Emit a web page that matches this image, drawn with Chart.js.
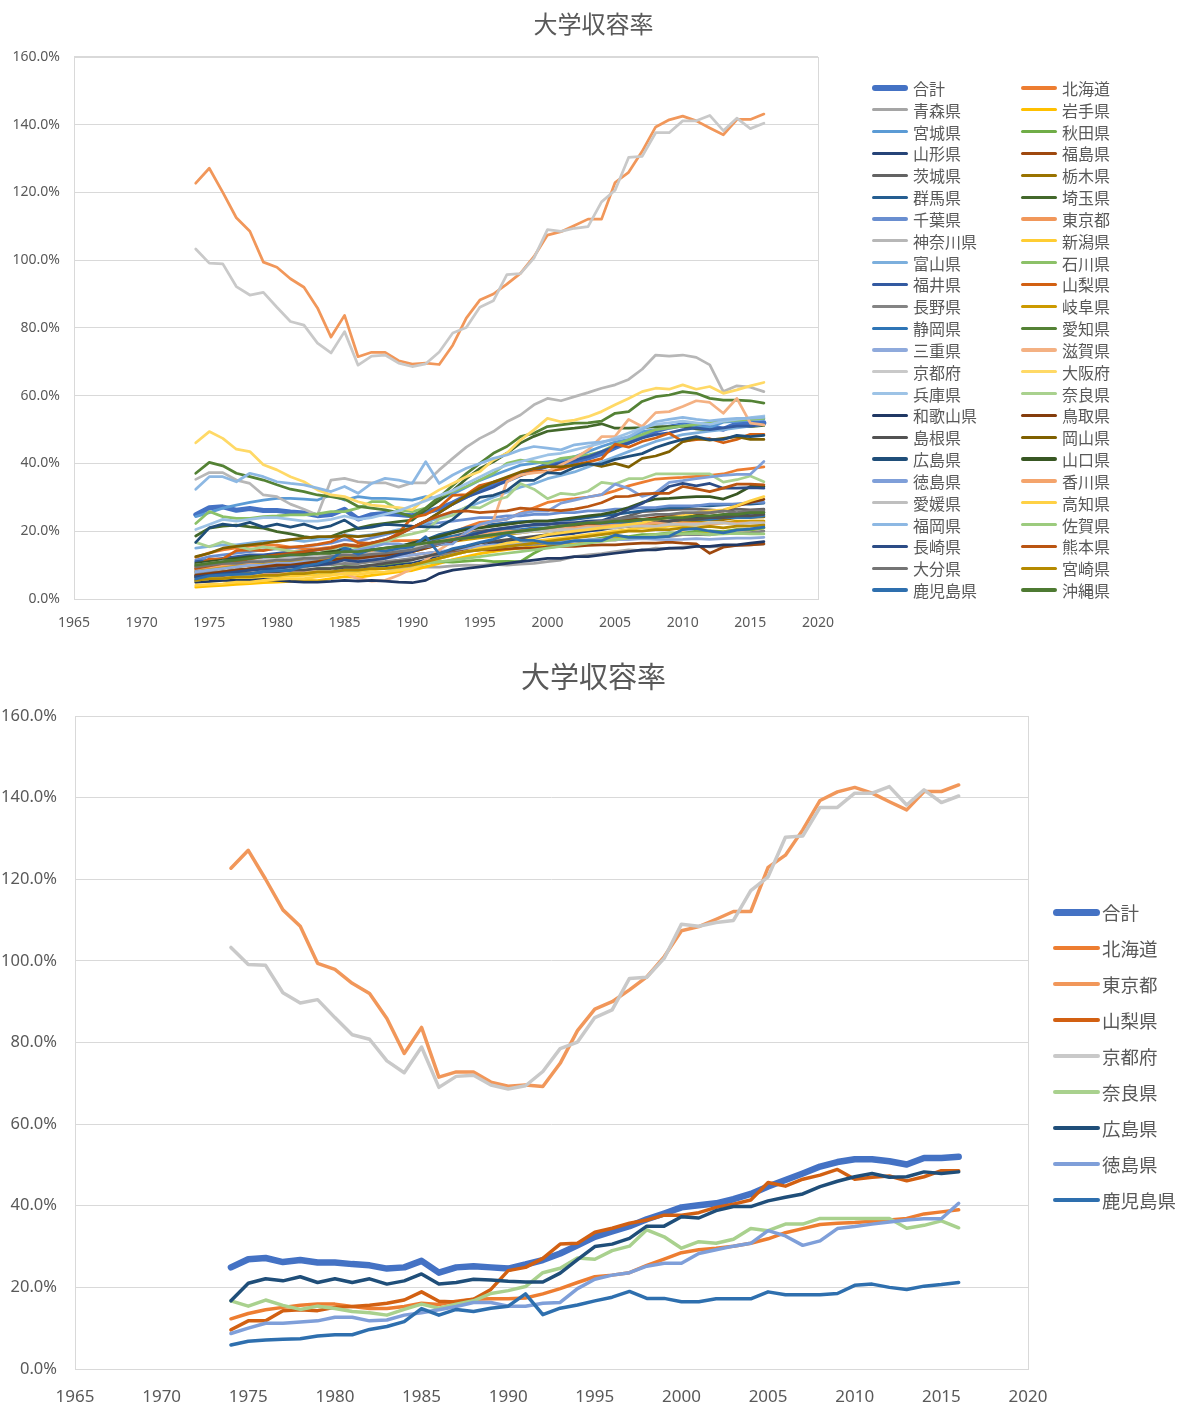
<!DOCTYPE html>
<html lang="ja">
<head>
<meta charset="utf-8">
<title>大学収容率</title>
<script src="https://cdn.jsdelivr.net/npm/chart.js@4.4.1/dist/chart.umd.min.js"></script>
<style>
  html, body { margin: 0; padding: 0; background: #fff; }
  body { width: 1187px; height: 1403px; position: relative; overflow: hidden;
         font-family: "Noto Sans CJK JP", "Noto Sans", sans-serif; }
  .box { position: absolute; left: 0; width: 1187px; }
  #topBox { top: 0; height: 645px; }
  #bottomBox { top: 645px; height: 758px; }
  .legend { position: absolute; left: 0; top: 0; color: #595959; }
  .legend .item { position: absolute; display: flex; align-items: center; white-space: nowrap; }
  .legend .line { display: inline-block; border-radius: 4px; }
</style>
</head>
<body>
<div class="box" id="topBox">
  <canvas id="topChart" width="1187" height="645"></canvas>
  <div class="legend" id="topLegend"></div>
</div>
<div class="box" id="bottomBox">
  <canvas id="bottomChart" width="1187" height="758"></canvas>
  <div class="legend" id="bottomLegend"></div>
</div>
<script>
// 年度 (x 軸)
const years = [1974,1975,1976,1977,1978,1979,1980,1981,1982,1983,
  1984,1985,1986,1987,1988,1989,1990,1991,1992,1993,
  1994,1995,1996,1997,1998,1999,2000,2001,2002,2003,
  2004,2005,2006,2007,2008,2009,2010,2011,2012,2013,2014,2015,2016];

// 大学収容率 (%)
const gokei = [24.9,26.9,27.2,26.2,26.7,26.1,26.1,25.7,25.4,24.6,
  24.9,26.5,23.6,24.9,25.2,24.9,24.6,25.6,26.7,28.3,
  30.3,32.4,33.7,35.0,36.7,38.1,39.6,40.1,40.6,41.6,
  42.9,44.7,46.3,47.9,49.6,50.7,51.4,51.4,50.9,50.1,51.7,51.7,52.0];
const hokkaido = [12.3,13.6,14.5,15.1,15.6,15.9,15.9,15.3,14.8,14.8,
  15.3,16.1,15.8,16.6,17.1,17.2,17.2,17.4,18.4,19.7,
  21.2,22.6,23.0,23.6,25.4,26.9,28.5,29.2,29.6,30.1,
  30.8,31.9,33.4,34.4,35.4,35.7,35.9,36.2,36.5,36.9,38.0,38.5,39.0];
const aomori = [6.0,6.5,6.8,7.0,7.2,7.5,7.4,7.8,8.0,8.2,
  8.5,8.8,8.4,8.8,9.0,8.9,9.2,9.5,9.4,9.8,
  10.0,9.9,10.2,10.0,10.3,10.5,11.0,11.5,12.5,13.0,
  13.4,14.0,14.5,14.3,15.0,14.9,15.3,15.6,15.4,15.5,15.8,16.0,16.2];
const iwate = [3.5,3.8,4.0,4.3,4.5,4.8,5.0,5.2,5.5,5.4,
  6.0,6.6,6.4,7.0,7.5,8.0,8.4,9.5,10.5,11.6,
  12.5,13.4,14.0,14.6,15.0,15.5,16.1,16.5,16.4,17.0,
  17.5,18.1,17.9,18.5,19.1,18.9,19.5,19.4,20.0,19.8,20.5,20.4,21.0];
const miyagi = [24.3,25.5,26.8,27.7,28.5,29.2,29.7,29.7,29.5,29.2,
  30.7,29.2,30.2,29.7,29.7,29.5,29.2,30.2,29.5,31.0,
  33.0,35.0,36.5,38.0,39.5,40.0,40.5,41.0,42.0,43.5,
  45.0,46.3,47.1,49.4,50.0,50.8,51.3,51.1,50.6,52.2,52.4,52.9,53.1];
const akita = [6.5,7.0,7.1,7.5,7.4,8.0,8.1,8.5,8.4,9.0,
  9.1,9.6,9.4,10.0,10.1,10.5,10.4,10.8,11.0,10.9,
  11.2,11.5,11.0,11.1,11.0,13.5,15.5,16.5,17.0,17.4,
  18.0,18.6,18.4,19.0,19.1,19.5,19.4,20.0,20.1,19.9,20.5,20.4,21.0];
const yamagata = [5.5,6.0,6.5,6.4,7.0,7.1,7.5,7.4,7.8,8.0,
  8.5,9.0,8.8,9.2,9.5,10.0,10.5,11.5,12.5,13.5,
  14.5,15.4,16.5,17.0,17.4,18.0,18.6,19.0,19.4,20.0,
  20.5,21.1,21.4,22.0,22.6,23.0,23.4,24.0,23.9,24.5,25.0,25.3,25.5];
const fukushima = [7.0,7.5,8.0,8.5,8.8,9.0,9.5,10.0,10.3,10.5,
  11.0,11.8,11.5,12.0,12.5,12.8,13.0,13.5,13.8,14.0,
  14.3,14.5,14.5,14.8,15.0,15.0,15.3,15.5,15.5,15.8,
  16.0,16.0,16.3,16.5,16.5,16.8,16.5,16.3,13.5,15.3,15.8,16.0,16.3];
const ibaraki = [9.0,9.5,10.0,10.5,10.8,11.0,11.5,12.0,12.0,12.5,
  13.0,13.8,13.5,14.0,14.5,15.0,15.5,16.5,17.5,18.5,
  19.5,20.0,20.5,21.0,21.5,21.8,22.0,22.3,22.5,22.5,
  22.3,23.5,24.5,25.8,26.0,26.3,26.5,26.5,26.3,26.0,26.5,26.3,26.5];
const tochigi = [8.0,8.5,9.0,9.5,10.0,10.3,10.5,11.0,11.5,11.8,
  12.0,12.8,12.5,13.0,13.5,14.0,14.5,15.5,16.5,17.5,
  18.0,18.5,19.0,19.5,20.0,20.5,20.4,21.0,20.9,21.5,
  21.4,22.0,22.1,22.5,22.4,23.0,23.1,22.9,23.5,23.4,24.0,24.1,24.2];
const gunma = [7.0,7.5,8.0,8.5,8.8,9.0,9.5,10.0,10.0,10.5,
  11.0,13.0,12.0,12.5,13.0,14.5,16.0,17.5,19.0,20.0,
  21.0,21.5,22.0,22.5,22.8,23.0,23.0,23.3,23.5,24.0,
  24.5,25.0,25.5,26.0,26.5,27.0,27.0,27.5,27.5,27.8,28.0,28.0,28.3];
const saitama = [18.6,20.9,21.5,21.8,21.3,20.9,19.9,19.2,18.4,17.9,
  18.4,19.9,20.9,21.8,22.3,22.8,23.3,26.3,29.0,32.0,
  35.5,38.5,40.5,43.0,46.0,48.0,49.5,50.0,50.4,50.9,
  51.7,50.4,50.4,50.6,50.9,50.9,51.0,50.2,49.8,50.3,50.9,50.9,51.2];
const chiba = [11.5,12.5,13.0,13.5,14.0,14.5,14.8,15.0,15.5,16.0,
  16.5,17.5,17.0,18.0,19.0,20.0,21.0,22.0,22.5,23.0,
  23.5,24.0,24.0,24.5,24.5,25.0,25.0,25.5,25.5,26.0,
  26.0,26.5,26.5,27.0,27.0,27.5,27.5,27.5,28.0,28.0,28.0,28.5,28.5];
const tokyo = [122.7,127.1,120.0,112.5,108.5,99.4,97.9,94.5,92.0,85.9,
  77.3,83.7,71.5,72.8,72.8,70.3,69.3,69.6,69.2,74.9,
  82.9,88.2,90.0,92.9,96.1,101.0,107.4,108.4,110.2,112.1,
  112.1,122.9,125.9,132.1,139.3,141.4,142.5,141.1,139.0,137.0,141.5,141.5,143.1];
const kanagawa = [35.3,37.3,37.3,35.1,34.1,30.7,30.2,28.0,26.5,24.8,
  35.1,35.6,34.6,34.3,34.3,33.0,34.3,34.3,38.1,41.5,
  44.8,47.4,49.4,52.3,54.3,57.3,59.2,58.5,59.7,60.9,
  62.2,63.2,64.8,67.8,72.0,71.7,72.0,71.3,69.1,61.2,62.9,62.5,61.2];
const niigata = [5.0,5.3,5.5,5.8,6.0,6.3,6.5,6.8,7.0,7.2,
  7.5,8.0,8.0,8.5,9.0,9.5,10.0,11.0,12.0,13.0,
  14.0,15.0,15.5,16.0,16.5,17.0,17.5,18.0,18.5,19.0,
  19.5,20.0,20.5,21.0,21.0,21.5,21.5,22.0,22.0,22.5,22.5,23.0,23.0];
const toyama = [15.0,15.5,16.0,16.0,16.5,17.0,17.0,17.5,17.0,17.5,
  18.0,19.0,18.5,19.0,19.5,20.5,21.0,22.5,24.0,25.5,
  27.0,28.5,30.0,31.5,33.0,34.0,35.5,36.5,37.5,39.0,
  40.5,42.0,43.5,45.0,46.5,47.5,48.5,49.0,49.5,50.0,50.5,51.0,51.5];
const ishikawa = [22.3,25.8,24.3,23.8,23.8,24.3,24.5,24.8,24.8,25.1,
  25.8,25.8,26.8,28.7,28.7,26.3,25.8,26.8,30.2,31.7,
  33.2,35.1,37.1,40.0,41.0,40.5,40.0,41.5,42.0,42.5,
  43.5,45.5,47.0,48.5,50.0,50.5,51.0,51.5,52.0,52.5,52.8,53.0,53.3];
const fukui = [11.0,11.5,12.0,12.5,13.0,13.0,13.5,14.0,14.0,14.5,
  15.0,16.0,15.5,16.5,17.5,19.0,21.0,23.0,25.5,28.0,
  30.0,31.5,33.0,35.0,36.5,38.0,39.0,40.0,41.0,42.0,
  43.5,45.0,46.0,47.5,48.5,49.0,50.0,50.5,50.0,50.5,51.0,51.0,51.5];
const yamanashi = [9.6,11.8,11.8,14.3,14.5,14.3,15.1,15.3,15.6,16.1,
  16.9,18.9,16.6,16.4,17.1,19.5,24.1,24.9,27.1,30.6,
  30.8,33.5,34.5,35.7,36.5,37.7,37.7,38.3,39.6,40.4,
  41.4,45.7,44.8,46.5,47.5,48.9,46.5,47.0,47.3,46.1,47.1,48.6,48.6];
const nagano = [7.5,8.0,8.1,8.5,8.4,9.0,9.1,9.5,9.4,10.0,
  10.1,10.5,10.4,11.0,11.1,11.5,12.0,12.5,13.0,13.5,
  14.0,14.5,15.0,15.5,16.0,16.1,16.5,16.4,17.0,17.1,
  17.5,17.4,18.0,18.1,18.5,18.4,19.0,19.1,18.9,19.5,19.4,19.6,20.0];
const gifu = [8.5,9.0,9.5,10.0,10.0,10.5,11.0,11.0,11.5,11.5,
  12.0,12.5,12.0,12.5,13.0,13.5,14.0,15.0,16.0,17.0,
  17.5,18.0,18.5,19.0,19.5,20.0,20.0,20.5,20.5,21.0,
  21.0,21.0,21.5,21.5,22.0,22.0,22.0,22.5,22.5,22.5,23.0,23.0,23.0];
const shizuoka = [10.0,10.5,11.0,11.0,11.5,11.5,12.0,12.0,12.5,12.5,
  13.0,15.5,13.5,14.0,14.5,15.5,16.5,17.5,18.0,18.5,
  19.0,19.5,20.0,20.5,20.5,21.0,21.0,21.5,21.5,22.0,
  22.0,22.5,22.5,23.0,23.0,23.0,23.5,23.5,23.5,24.0,24.0,24.0,24.5];
const aichi = [37.1,40.3,39.3,37.1,36.1,35.1,33.7,32.4,31.7,30.7,
  30.2,29.5,27.3,26.8,26.3,25.5,24.3,26.8,30.0,33.5,
  37.0,40.0,43.0,45.0,47.9,48.9,50.9,51.4,51.9,52.0,
  52.5,54.8,55.3,58.3,59.7,60.2,61.2,60.7,59.2,58.7,58.7,58.5,57.8];
const mie = [8.0,8.5,9.0,9.5,10.0,10.0,10.5,10.5,11.0,11.0,
  11.5,12.0,11.5,12.0,12.0,12.5,13.0,13.5,14.0,14.5,
  15.0,15.5,16.0,16.0,16.5,16.5,17.0,17.0,17.0,17.5,
  17.5,17.5,17.5,17.8,17.6,17.5,17.6,17.8,17.6,17.8,18.0,18.0,18.2];
const shiga = [6.0,6.3,6.5,6.8,7.0,7.3,7.5,7.8,8.0,8.2,
  8.5,7.5,6.0,5.3,5.5,7.0,9.0,11.5,14.5,17.0,
  19.5,21.5,23.2,34.6,36.6,37.2,37.6,39.6,41.5,44.0,
  47.9,48.0,53.0,50.9,55.0,55.3,56.8,58.5,58.0,54.8,59.2,51.9,51.4];
const kyoto = [103.3,99.1,98.9,92.2,89.7,90.5,86.1,81.9,80.8,75.5,
  72.6,78.9,69.0,71.7,72.0,69.6,68.6,69.4,72.9,78.5,
  80.1,86.1,88.0,95.7,96.0,100.6,109.0,108.5,109.4,109.9,
  117.2,120.6,130.3,130.6,137.6,137.6,141.1,141.1,142.7,138.2,141.9,138.8,140.4];
const osaka = [46.1,49.4,47.4,44.2,43.5,39.6,38.1,36.1,34.6,32.2,
  30.7,30.2,28.7,27.7,27.3,27.0,26.3,29.8,32.2,34.1,
  36.1,37.6,41.0,43.0,46.9,49.9,53.3,52.3,52.8,53.8,
  55.3,57.3,59.2,61.2,62.2,61.9,63.2,61.9,62.7,60.7,61.7,62.9,63.9];
const hyogo = [20.5,22.0,23.5,23.0,23.5,24.0,24.0,23.5,23.0,23.0,
  23.5,24.5,23.5,24.0,25.0,26.0,27.5,29.0,30.5,32.0,
  34.0,36.0,38.0,39.5,40.5,41.5,42.5,43.0,44.0,45.0,
  46.0,47.5,49.0,50.5,51.5,52.0,52.5,52.0,51.5,52.5,53.0,53.5,54.0];
const nara = [16.7,15.4,16.9,15.6,14.6,15.4,14.8,14.1,13.8,13.2,
  14.6,15.9,14.9,15.9,16.7,18.5,19.2,20.2,23.6,24.7,
  27.2,26.9,29.0,30.1,34.1,32.4,29.6,31.2,30.8,31.8,
  34.4,33.9,35.5,35.5,36.9,36.9,36.9,36.9,36.9,34.5,35.2,36.3,34.6];
const wakayama = [5.0,5.2,5.5,5.5,5.5,5.8,5.5,5.2,5.0,5.0,
  5.2,5.5,5.3,5.5,5.3,5.0,4.8,5.5,7.5,8.5,
  9.0,9.5,10.0,10.5,11.0,11.5,12.0,12.0,12.5,12.5,
  13.0,13.5,14.0,14.5,14.5,15.0,15.0,15.5,15.5,16.0,16.0,16.5,16.9];
const tottori = [7.0,7.5,8.0,8.5,9.0,9.5,10.0,10.0,10.5,11.0,
  11.5,12.0,12.0,12.5,13.0,13.5,14.0,15.0,16.0,17.0,
  18.0,18.5,19.0,19.5,20.0,20.5,20.5,21.0,21.5,22.0,
  22.5,23.0,23.5,23.5,24.0,24.5,24.5,25.0,25.5,26.0,27.5,28.5,29.4];
const shimane = [6.5,7.0,7.0,7.5,7.5,8.0,8.0,8.5,8.5,9.0,
  9.0,9.5,9.5,10.0,10.5,11.0,11.5,12.5,13.5,14.5,
  15.5,16.5,17.0,17.5,18.0,18.5,19.0,19.5,20.0,20.5,
  21.0,21.5,22.0,22.5,23.0,23.0,23.5,23.5,24.0,24.0,24.5,24.5,25.0];
const okayama = [12.5,13.5,15.0,15.5,16.0,16.4,17.0,17.5,18.0,18.4,
  18.4,18.6,18.4,18.8,19.5,20.0,21.0,23.0,25.5,28.0,
  30.5,32.7,34.5,36.0,37.5,38.5,39.1,39.0,39.5,40.0,
  39.1,40.0,38.9,41.5,42.2,43.5,46.4,47.4,46.9,47.4,47.9,47.1,47.1];
const hiroshima = [16.7,21.0,22.1,21.6,22.6,21.2,22.1,21.2,22.1,20.8,
  21.6,23.3,20.8,21.2,22.0,21.8,21.5,21.3,21.3,23.5,
  26.8,30.0,30.6,32.0,35.0,35.0,37.3,37.0,38.8,39.8,
  39.8,41.2,42.1,42.9,44.7,46.0,47.1,47.9,47.0,47.1,48.3,47.9,48.3];
const yamaguchi = [10.5,11.0,11.5,12.0,12.5,12.5,13.0,13.0,13.5,13.5,
  14.0,14.5,14.0,14.5,15.0,15.5,16.5,17.5,18.5,19.5,
  20.5,21.0,21.5,22.0,22.5,23.0,23.0,23.5,24.0,24.5,
  25.0,25.8,27.0,28.5,29.5,29.7,30.0,30.2,30.2,29.5,31.0,33.2,33.2];
const tokushima = [8.7,10.0,11.2,11.2,11.5,11.8,12.7,12.7,11.8,12.0,
  13.2,13.8,14.5,15.3,16.3,16.3,15.4,15.4,16.1,16.3,
  19.7,22.0,23.0,23.6,25.2,25.9,25.9,28.3,29.2,30.1,
  30.8,33.9,32.6,30.3,31.4,34.4,34.9,35.5,36.0,36.5,36.8,36.8,40.6];
const kagawa = [9.0,9.5,10.0,10.5,10.8,11.0,11.5,12.0,12.0,12.5,
  13.0,13.5,13.5,14.0,14.5,15.0,15.5,16.0,17.0,18.0,
  18.5,19.0,19.5,20.0,20.0,20.5,20.5,21.0,21.0,21.5,
  21.5,21.8,21.8,22.0,22.5,22.0,22.5,22.3,22.0,22.5,22.3,22.5,22.5];
const ehime = [10.0,10.5,11.0,11.0,11.5,11.5,12.0,12.0,12.5,12.5,
  13.0,13.5,13.0,13.5,14.0,14.5,15.0,16.0,17.0,17.5,
  18.0,18.5,19.0,19.5,19.5,20.0,20.0,20.5,20.5,21.0,
  21.0,21.0,21.5,21.5,21.5,22.0,22.0,22.0,22.5,22.5,22.0,22.5,22.5];
const kochi = [4.0,4.3,4.5,5.0,5.0,5.5,5.8,6.0,6.0,6.5,
  7.0,7.5,7.2,7.8,8.0,8.5,9.0,10.5,12.0,13.0,
  14.0,15.0,15.5,16.5,17.0,18.0,19.0,19.5,20.0,20.5,
  21.0,21.5,22.0,22.5,23.5,24.0,24.5,25.5,26.0,26.3,27.5,29.0,30.2];
const fukuoka = [32.4,36.1,36.1,34.6,37.1,36.1,34.6,34.1,33.7,32.7,
  31.7,33.2,31.2,34.1,35.6,35.1,34.1,40.5,34.1,36.6,
  38.6,40.0,41.5,42.5,44.0,45.0,44.5,44.0,45.5,46.0,
  46.4,47.0,47.9,50.0,52.3,53.0,53.6,53.0,52.6,53.0,53.3,53.4,53.6];
const saga = [5.5,6.0,6.0,6.5,6.5,7.0,7.0,7.5,7.5,8.0,
  8.0,8.5,8.5,9.0,9.0,9.5,10.0,10.5,11.0,11.5,
  12.0,12.5,13.0,13.5,14.0,14.5,15.0,15.5,16.0,16.5,
  17.0,17.5,18.0,18.5,19.0,19.4,19.2,19.4,19.0,19.2,19.4,19.2,19.2];
const nagasaki = [6.5,7.0,7.5,8.0,8.5,8.8,9.0,9.5,9.8,10.0,
  10.5,11.5,11.0,11.5,12.0,13.0,14.0,15.5,16.5,17.5,
  18.5,19.5,20.5,21.0,21.5,22.0,22.0,22.5,22.5,23.0,
  23.1,24.5,26.5,28.2,30.5,33.2,34.1,33.4,34.1,32.7,32.7,32.9,32.7];
const kumamoto = [9.0,9.8,10.5,11.0,11.8,12.5,13.0,13.5,14.0,14.5,
  15.0,16.0,15.5,16.5,17.5,19.0,21.0,23.0,24.5,25.8,
  26.0,25.5,25.8,26.0,26.8,26.5,26.3,26.1,26.5,27.3,
  28.4,30.2,30.3,31.0,31.2,31.2,33.2,32.5,31.7,32.7,33.9,33.9,33.7];
const oita = [9.5,10.0,10.5,10.5,11.0,11.0,11.5,11.5,12.0,12.0,
  12.5,13.0,12.8,13.2,13.5,14.0,14.5,15.5,16.5,17.5,
  18.0,18.5,19.0,19.5,20.0,20.5,21.0,21.5,22.0,22.5,
  23.0,23.5,24.0,24.5,25.0,25.0,25.5,25.5,25.5,26.0,25.5,26.0,26.0];
const miyazaki = [5.5,6.0,6.0,6.5,6.5,7.0,7.0,7.5,7.5,8.0,
  8.0,8.5,8.5,9.0,9.0,9.5,10.0,11.0,12.0,13.0,
  14.0,14.5,15.0,15.5,16.0,16.5,17.0,17.5,18.0,18.5,
  19.0,19.5,20.0,20.0,20.5,20.5,21.0,21.0,21.4,21.0,21.5,21.5,21.8];
const kagoshima = [5.9,6.8,7.1,7.3,7.4,8.1,8.4,8.4,9.7,10.4,
  11.6,14.8,13.2,14.6,14.1,14.9,15.4,18.4,13.3,14.9,
  15.7,16.7,17.6,19.0,17.3,17.3,16.5,16.5,17.2,17.2,
  17.2,18.9,18.2,18.2,18.2,18.5,20.5,20.8,20.0,19.5,20.3,20.7,21.2];
const okinawa = [10.0,10.5,11.0,11.5,12.0,12.5,12.5,13.0,13.0,13.5,
  13.5,14.0,14.0,14.5,15.0,15.5,16.0,16.5,17.0,17.5,
  18.0,18.5,19.0,19.5,20.0,20.5,21.0,21.5,22.0,22.5,
  22.5,23.0,23.0,23.5,23.5,24.0,24.0,24.5,24.5,25.0,25.0,25.5,25.5];

// 軸目盛り
const yTicks = [0, 20, 40, 60, 80, 100, 120, 140, 160];
const xTicks = [1965, 1970, 1975, 1980, 1985, 1990, 1995, 2000, 2005, 2010, 2015, 2020];

// 系列 (名前, 値, 色)
const allSeries = [
  ['合計', gokei, '#4472C4'], ['北海道', hokkaido, '#ED7D31'],
  ['青森県', aomori, '#A5A5A5'], ['岩手県', iwate, '#FFC000'],
  ['宮城県', miyagi, '#5B9BD5'], ['秋田県', akita, '#70AD47'],
  ['山形県', yamagata, '#264478'], ['福島県', fukushima, '#9E480E'],
  ['茨城県', ibaraki, '#636363'], ['栃木県', tochigi, '#997300'],
  ['群馬県', gunma, '#255E91'], ['埼玉県', saitama, '#43682B'],
  ['千葉県', chiba, '#698ED0'], ['東京都', tokyo, '#F1975A'],
  ['神奈川県', kanagawa, '#B7B7B7'], ['新潟県', niigata, '#FFCD33'],
  ['富山県', toyama, '#7CAFDD'], ['石川県', ishikawa, '#8CC168'],
  ['福井県', fukui, '#335AA1'], ['山梨県', yamanashi, '#D26012'],
  ['長野県', nagano, '#848484'], ['岐阜県', gifu, '#CC9A00'],
  ['静岡県', shizuoka, '#2E75B6'], ['愛知県', aichi, '#548235'],
  ['三重県', mie, '#8FAADC'], ['滋賀県', shiga, '#F4B183'],
  ['京都府', kyoto, '#C9C9C9'], ['大阪府', osaka, '#FFD966'],
  ['兵庫県', hyogo, '#9DC3E6'], ['奈良県', nara, '#A9D18E'],
  ['和歌山県', wakayama, '#203864'], ['鳥取県', tottori, '#843C0C'],
  ['島根県', shimane, '#525252'], ['岡山県', okayama, '#7F6000'],
  ['広島県', hiroshima, '#1F4E79'], ['山口県', yamaguchi, '#385723'],
  ['徳島県', tokushima, '#7F9FD9'], ['香川県', kagawa, '#F4A46C'],
  ['愛媛県', ehime, '#BFBFBF'], ['高知県', kochi, '#FFD145'],
  ['福岡県', fukuoka, '#8DB8E3'], ['佐賀県', saga, '#9CCB7E'],
  ['長崎県', nagasaki, '#2C4C86'], ['熊本県', kumamoto, '#BA5512'],
  ['大分県', oita, '#747474'], ['宮崎県', miyazaki, '#B58A00'],
  ['鹿児島県', kagoshima, '#2E6FAE'], ['沖縄県', okinawa, '#4E7A32']
];
const pickNames = ['合計', '北海道', '東京都', '山梨県', '京都府', '奈良県', '広島県', '徳島県', '鹿児島県'];
const pickedSeries = pickNames.map(n => allSeries.find(s => s[0] === n));

const CJK = '"Noto Sans CJK JP", "Noto Sans", sans-serif';
const LATIN = '"Noto Sans", "DejaVu Sans", sans-serif';
const GRID = '#D9D9D9';
const TEXT = '#595959';

// plot area frame like Excel
const frame = {
  id: 'frame',
  beforeDatasetsDraw(chart) {
    const { ctx, chartArea: a } = chart;
    ctx.save();
    ctx.strokeStyle = GRID;
    ctx.lineWidth = 1;
    ctx.strokeRect(Math.round(a.left) + 0.5, Math.round(a.top) + 0.5,
      Math.round(a.right - a.left), Math.round(a.bottom - a.top));
    ctx.restore();
  }
};

function toDatasets(list, thin, thick) {
  return list.map(([label, values, color], i) => ({
    label: label,
    data: values.map((v, k) => ({ x: years[k], y: v })),
    borderColor: color,
    backgroundColor: color,
    borderWidth: i === 0 ? thick : thin,
    pointRadius: 0,
    pointHoverRadius: 0,
    tension: 0,
    fill: false,
    borderJoinStyle: 'round',
    borderCapStyle: 'round',
    order: -i
  }));
}

function makeChart(id, list, c) {
  return new Chart(document.getElementById(id), {
    type: 'line',
    data: { datasets: toDatasets(list, c.thin, c.thick) },
    options: {
      responsive: false,
      animation: false,
      devicePixelRatio: 1,
      layout: { padding: 0 },
      plugins: {
        legend: { display: false },
        tooltip: { enabled: false },
        title: {
          display: true, text: '大学収容率', color: TEXT,
          font: { family: CJK, size: c.titleSize, weight: 'normal', lineHeight: 1.2 },
          padding: c.titlePad
        }
      },
      scales: {
        x: {
          type: 'linear', min: xTicks[0], max: xTicks[xTicks.length - 1],
          afterBuildTicks: s => { s.ticks = xTicks.map(v => ({ value: v })); },
          ticks: { color: TEXT, font: { family: LATIN, size: c.xFont }, padding: c.xPad,
                   maxRotation: 0, autoSkip: false, callback: v => String(v) },
          grid: { display: false },
          border: { display: false },
          afterFit: s => { s.height = c.xHeight; }
        },
        y: {
          min: yTicks[0], max: yTicks[yTicks.length - 1],
          afterBuildTicks: s => { s.ticks = yTicks.map(v => ({ value: v })); },
          ticks: { color: TEXT, font: { family: LATIN, size: c.yFont }, padding: c.yPad,
                   callback: v => v.toFixed(1) + '%' },
          grid: { color: GRID, drawTicks: false },
          border: { display: false },
          afterFit: s => { s.width = c.yWidth; }
        },
        // empty box on the right that leaves room for the legend
        side: {
          position: 'right', display: true,
          ticks: { display: false }, grid: { display: false }, border: { display: false },
          afterFit: s => { s.width = c.sideWidth; }
        }
      }
    },
    plugins: [frame]
  });
}

function buildLegend(el, chart, L) {
  chart.data.datasets.forEach((ds, i) => {
    const col = i % L.cols, row = Math.floor(i / L.cols);
    const item = document.createElement('div');
    item.className = 'item';
    item.style.left = L.colX[col] + 'px';
    item.style.top = (L.y0 + row * L.dy - L.h / 2) + 'px';
    item.style.height = L.h + 'px';
    item.style.lineHeight = L.h + 'px';
    item.style.fontSize = L.font + 'px';
    const sw = document.createElement('span');
    sw.className = 'line';
    sw.style.width = L.lineW + 'px';
    sw.style.height = (ds.borderWidth + L.extra) + 'px';
    sw.style.background = ds.borderColor;
    sw.style.marginRight = L.gap + 'px';
    const tx = document.createElement('span');
    tx.textContent = ds.label;
    item.append(sw, tx);
    el.appendChild(item);
  });
}

const topChart = makeChart('topChart', allSeries, {
  thin: 2.75, thick: 5, sideWidth: 369, titleSize: 24, titlePad: { top: 9, bottom: 19 },
  xFont: 14, xPad: 8, xHeight: 46, yFont: 14, yPad: 14, yWidth: 74
});
const bottomChart = makeChart('bottomChart', pickedSeries, {
  thin: 3.5, thick: 6.5, sideWidth: 159, titleSize: 29, titlePad: { top: 14.6, bottom: 21.6 },
  xFont: 17, xPad: 10, xHeight: 34, yFont: 16.5, yPad: 18, yWidth: 75
});

buildLegend(document.getElementById('topLegend'), topChart, {
  cols: 2, colX: [872, 1021], y0: 88, dy: 21.83, h: 22, font: 16, lineW: 36, gap: 5, extra: 0.5
});
buildLegend(document.getElementById('bottomLegend'), bottomChart, {
  cols: 1, colX: [1053], y0: 267, dy: 36, h: 30, font: 18.5, lineW: 47, gap: 2, extra: 0.5
});
</script>
</body>
</html>
